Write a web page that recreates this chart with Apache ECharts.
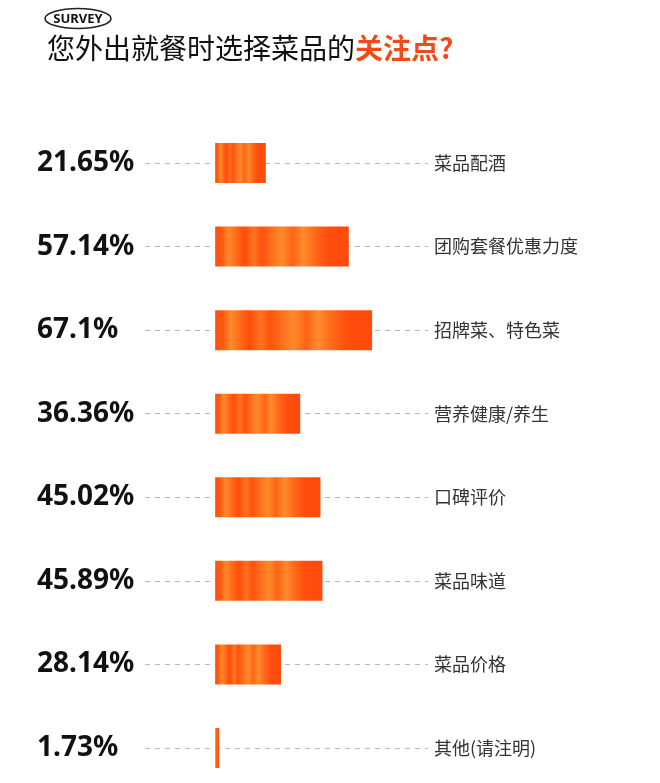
<!DOCTYPE html>
<html>
<head>
<meta charset="utf-8">
<script src="https://cdn.jsdelivr.net/npm/echarts@6/dist/echarts.min.js"></script>
<style>
html,body{margin:0;padding:0;background:#fff;}
#chart{width:660px;height:783px;}
</style>
</head>
<body>
<div id="chart"></div>
<script>
var categories = ['菜品配酒', '团购套餐优惠力度', '招牌菜、特色菜', '营养健康/养生', '口碑评价', '菜品味道', '菜品价格', '其他(请注明)'];
var values = [21.65, 57.14, 67.1, 36.36, 45.02, 45.89, 28.14, 1.73];
var titleMain = '您外出就餐时选择菜品的';
var titleHighlight = '关注点?';
var badgeText = 'SURVEY';

var chart = echarts.init(document.getElementById('chart'));

var barGradient = new echarts.graphic.LinearGradient(0, 0, 1, 0, [
  { offset: 0.00, color: '#ff4f0e' },
  { offset: 0.05, color: '#ff5a12' },
  { offset: 0.10, color: '#ff8a2c' },
  { offset: 0.16, color: '#ff6a18' },
  { offset: 0.22, color: '#ff4c0c' },
  { offset: 0.29, color: '#ff7420' },
  { offset: 0.35, color: '#ff5210' },
  { offset: 0.42, color: '#ff6e1c' },
  { offset: 0.50, color: '#ff8a2a' },
  { offset: 0.58, color: '#ff6418' },
  { offset: 0.66, color: '#ff8c2c' },
  { offset: 0.74, color: '#ff6a1a' },
  { offset: 0.84, color: '#ff4e0e' },
  { offset: 1.00, color: '#ff4a0c' }
]);

var option = {
  backgroundColor: '#ffffff',
  animation: false,
  title: {
    left: 42,
    top: 29,
    text: '{a|' + titleMain + '}{b|' + titleHighlight + '}',
    textStyle: {
      rich: {
        a: { fontSize: 28, color: '#111111', fontFamily: '"Noto Sans CJK SC", sans-serif', fontWeight: 'normal' },
        b: { fontSize: 28, color: '#f04a18', fontFamily: '"Noto Sans CJK SC", sans-serif', fontWeight: 'bold' }
      }
    }
  },
  graphic: [
    {
      type: 'ellipse',
      shape: { cx: 78, cy: 18.5, rx: 33, ry: 10 },
      style: { fill: 'none', stroke: '#222222', lineWidth: 1.6 }
    },
    {
      type: 'text',
      x: 78, y: 19.5,
      style: {
        text: badgeText,
        fontSize: 13,
        fontWeight: 'bold',
        fontFamily: '"Noto Sans", sans-serif',
        fill: '#111111',
        align: 'center',
        verticalAlign: 'middle'
      }
    }
  ],
  grid: {
    left: 145,
    right: 232,
    top: 163,
    height: 585,
    containLabel: false
  },
  xAxis: {
    type: 'value',
    min: -30,
    max: 91,
    show: false
  },
  yAxis: [
    {
      type: 'category',
      data: categories,
      inverse: true,
      boundaryGap: false,
      position: 'left',
      axisLine: { show: false },
      axisTick: { show: false },
      splitLine: { show: false },
      axisLabel: {
        margin: 108,
        align: 'left',
        fontSize: 28,
        fontWeight: 'bold',
        color: '#111111',
        fontFamily: '"Noto Sans", sans-serif',
        formatter: function (v, i) { return values[i] + '%'; }
      }
    },
    {
      type: 'category',
      data: categories,
      inverse: true,
      boundaryGap: false,
      position: 'right',
      axisLine: { show: false },
      axisTick: { show: false },
      splitLine: { show: false },
      axisLabel: {
        margin: 6,
        fontSize: 18,
        color: '#333333',
        fontFamily: '"Noto Sans CJK SC", sans-serif'
      }
    }
  ],
  series: [
    {
      type: 'line',
      data: categories.map(function () { return null; }),
      z: 1,
      silent: true,
      markLine: {
        z: 1,
        silent: true,
        symbol: 'none',
        label: { show: false },
        lineStyle: { color: '#b8b8b8', type: [5, 5], width: 1 },
        data: categories.map(function (c) { return { yAxis: c }; })
      }
    },
    {
      type: 'bar',
      data: values,
      barWidth: 40,
      z: 10,
      itemStyle: { color: barGradient }
    }
  ]
};

chart.setOption(option);
</script>
</body>
</html>
